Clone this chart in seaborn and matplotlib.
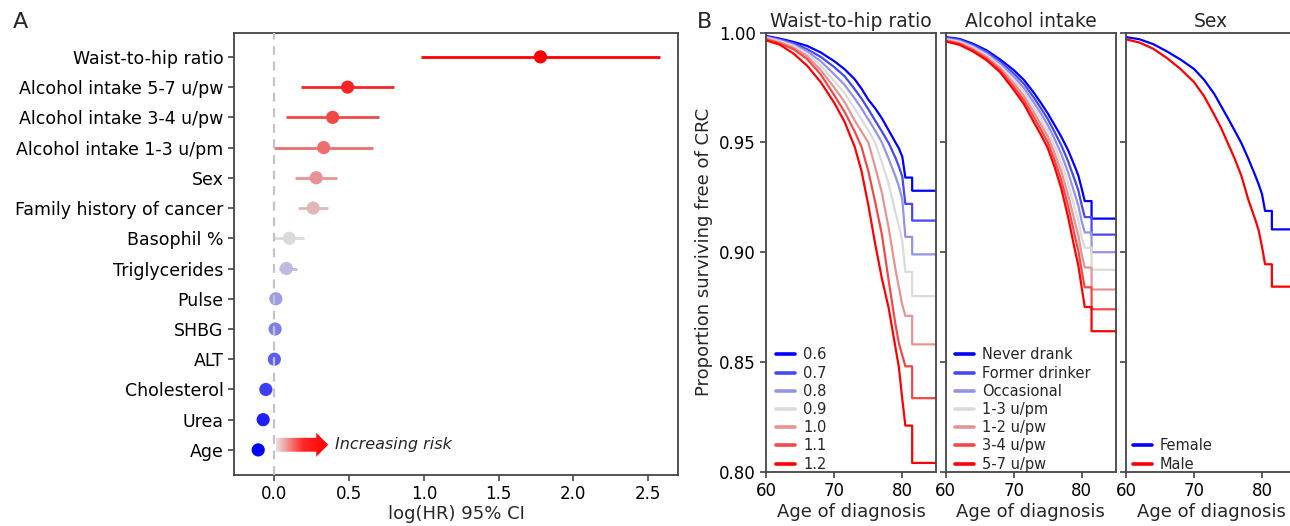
import numpy as np
import pandas as pd
import matplotlib
matplotlib.use("Agg")
import matplotlib.pyplot as plt
from matplotlib.colors import LinearSegmentedColormap
from matplotlib.patches import FancyArrow
import seaborn as sns

# ---- panel A: log hazard ratios with 95% CI (top to bottom)
features = ["Waist-to-hip ratio", "Alcohol intake 5-7 u/pw", "Alcohol intake 3-4 u/pw",
            "Alcohol intake 1-3 u/pm", "Sex", "Family history of cancer", "Basophil %",
            "Triglycerides", "Pulse", "SHBG", "ALT", "Cholesterol", "Urea", "Age"]
log_hr = [1.78, 0.49, 0.39, 0.33, 0.28, 0.26, 0.10, 0.08, 0.01, 0.005, 0.0, -0.057, -0.075, -0.108]
ci_low = [0.98, 0.18, 0.08, 0.0, 0.14, 0.16, 0.0, 0.03, -0.01, -0.015, -0.02, -0.095, -0.09, -0.12]
ci_high = [2.58, 0.80, 0.70, 0.66, 0.42, 0.36, 0.20, 0.15, 0.03, 0.025, 0.02, -0.02, -0.06, -0.095]

# ---- panel B: survival curves (age, proportion free of CRC)
ages = [60, 62, 64, 66, 68, 70, 71.5, 73, 74, 75, 76, 77, 78, 79, 79.5, 80, 80.45, 81.45, 81.45, 85]

whr_levels = ["0.6", "0.7", "0.8", "0.9", "1.0", "1.1", "1.2"]
whr_06 = [0.9985, 0.9973, 0.9958, 0.9940, 0.9910, 0.9870, 0.9834, 0.9788, 0.9745, 0.9695,
          0.9656, 0.9610, 0.9555, 0.9500, 0.9473, 0.9435, 0.934, 0.934, 0.928, 0.928]
whr_07 = [0.9982, 0.9969, 0.9952, 0.9925, 0.9890, 0.9843, 0.9802, 0.9743, 0.9700, 0.9652,
          0.9600, 0.9550, 0.9497, 0.9430, 0.9390, 0.9344, 0.922, 0.922, 0.9144, 0.9144]
whr_08 = [0.9980, 0.9965, 0.9945, 0.9915, 0.9870, 0.9810, 0.9763, 0.9700, 0.9655, 0.9605,
          0.9555, 0.9500, 0.9425, 0.9345, 0.9300, 0.9240, 0.907, 0.907, 0.899, 0.899]
whr_09 = [0.9977, 0.9961, 0.9940, 0.9905, 0.9850, 0.9780, 0.9725, 0.9655, 0.9605, 0.9555,
          0.9500, 0.9410, 0.9310, 0.9180, 0.9120, 0.9050, 0.891, 0.891, 0.880, 0.880]
whr_10 = [0.9973, 0.9956, 0.9932, 0.9893, 0.9830, 0.9750, 0.9685, 0.9600, 0.9550, 0.9500,
          0.9390, 0.9270, 0.9110, 0.8920, 0.8840, 0.8760, 0.871, 0.871, 0.858, 0.858]
whr_11 = [0.9970, 0.9951, 0.9925, 0.9880, 0.9810, 0.9715, 0.9640, 0.9550, 0.9480, 0.9370,
          0.9230, 0.9080, 0.8870, 0.8670, 0.8585, 0.8530, 0.848, 0.848, 0.8335, 0.8335]
whr_12 = [0.9965, 0.9945, 0.9905, 0.9850, 0.9775, 0.9680, 0.9595, 0.9480, 0.9370, 0.9215,
          0.9040, 0.8880, 0.8745, 0.8565, 0.8475, 0.8330, 0.821, 0.821, 0.804, 0.804]

alc_levels = ["Never drank", "Former drinker", "Occasional", "1-3 u/pm", "1-2 u/pw", "3-4 u/pw", "5-7 u/pw"]
alc_never = [0.9980, 0.9972, 0.9950, 0.9920, 0.9878, 0.9830, 0.9785, 0.9725, 0.9680, 0.9633,
             0.9580, 0.9526, 0.9465, 0.9390, 0.9350, 0.9290, 0.9233, 0.9233, 0.9153, 0.9153]
alc_former = [0.9977, 0.9968, 0.9944, 0.9913, 0.9868, 0.9815, 0.9767, 0.9703, 0.9656, 0.9607,
              0.9548, 0.9487, 0.9414, 0.9327, 0.9282, 0.9215, 0.916, 0.916, 0.908, 0.908]
alc_occ = [0.9973, 0.9963, 0.9938, 0.9905, 0.9859, 0.9800, 0.9748, 0.9680, 0.9632, 0.9580,
           0.9517, 0.9447, 0.9363, 0.9263, 0.9213, 0.9140, 0.909, 0.909, 0.900, 0.900]
alc_13pm = [0.9970, 0.9959, 0.9933, 0.9898, 0.9849, 0.9785, 0.9730, 0.9658, 0.9608, 0.9554,
            0.9485, 0.9408, 0.9313, 0.9200, 0.9145, 0.9065, 0.902, 0.902, 0.892, 0.892]
alc_12pw = [0.9967, 0.9954, 0.9927, 0.9890, 0.9839, 0.9770, 0.9712, 0.9635, 0.9583, 0.9528,
            0.9453, 0.9369, 0.9262, 0.9137, 0.9077, 0.8990, 0.893, 0.893, 0.883, 0.883]
alc_34pw = [0.9963, 0.9950, 0.9921, 0.9883, 0.9830, 0.9755, 0.9693, 0.9613, 0.9559, 0.9501,
            0.9422, 0.9329, 0.9211, 0.9073, 0.9008, 0.8915, 0.884, 0.884, 0.874, 0.874]
alc_57pw = [0.9960, 0.9945, 0.9915, 0.9875, 0.9820, 0.9740, 0.9675, 0.9590, 0.9535, 0.9475,
            0.9390, 0.9290, 0.9160, 0.9010, 0.8940, 0.8840, 0.875, 0.875, 0.864, 0.864]

sex_levels = ["Female", "Male"]
sex_female = [0.9980, 0.9970, 0.9948, 0.9915, 0.9878, 0.9835, 0.9785, 0.9720, 0.9665, 0.9610,
              0.9553, 0.9495, 0.9425, 0.9350, 0.9310, 0.9265, 0.9188, 0.9188, 0.9104, 0.9104]
sex_male = [0.9970, 0.9955, 0.9927, 0.9885, 0.9835, 0.9775, 0.9710, 0.9625, 0.9565, 0.9495,
            0.9425, 0.9345, 0.9238, 0.9150, 0.9100, 0.9025, 0.8945, 0.8945, 0.8843, 0.8843]


def long_frame(x, curves, levels):
    rows = []
    for lev, ys in zip(levels, curves):
        for a, s in zip(x, ys):
            rows.append({"age": a, "surv": s, "group": lev})
    return pd.DataFrame(rows)


sns.set_style("ticks")
plt.rcParams["font.family"] = ["DejaVu Sans"]

cmap = LinearSegmentedColormap.from_list("bgr", ["#0000ff", "#dcdcdc", "#ff0000"])
W, H = 1290, 526
fig = plt.figure(figsize=(W / 100, H / 100), dpi=100)

# ---------------- panel A
axA = fig.add_axes([234 / W, 1 - 475 / H, 444 / W, 442.3 / H])
pos = np.arange(len(features))
# blue -> grey over the 8 lowest rows, grey -> red over the rest
shade = np.concatenate([np.linspace(0, 0.5, 8), np.linspace(0.5, 1, 7)[1:]])[::-1]
dot_cols = [cmap(v) for v in shade]
axA.hlines(pos, ci_low, ci_high, colors=dot_cols, lw=2, zorder=2)
sns.scatterplot(x=log_hr, y=pos, hue=features, palette=dot_cols, s=90,
                linewidth=0, legend=False, ax=axA, zorder=3)
axA.axvline(0, color="#c4c4c4", ls=(0, (4, 3)), lw=1.6, zorder=3.5)

# gradient "increasing risk" arrow
arrow = FancyArrow(0.01, 12.83, 0.35, 0, width=0.46, head_width=0.8, head_length=0.08,
                   length_includes_head=True, facecolor="none", edgecolor="none")
axA.add_patch(arrow)
grad = LinearSegmentedColormap.from_list("g", ["#e6e2e2", "#ff2828", "#ff0000"])
img = axA.imshow(np.linspace(0, 1, 256)[None, :], cmap=grad, aspect="auto",
                 extent=[0.01, 0.36, 12.43, 13.23], zorder=4)
img.set_clip_path(arrow)
axA.text(0.405, 12.83, "Increasing risk", style="italic", fontsize=11.5, va="center")

axA.set_yticks(pos, features, fontsize=12.5)
axA.set_ylim(13.83, -0.8)
axA.set_xlim(-0.27, 2.70)
axA.set_xticks([0, 0.5, 1.0, 1.5, 2.0, 2.5], ["0.0", "0.5", "1.0", "1.5", "2.0", "2.5"], fontsize=12)
axA.set_xlabel("log(HR) 95% CI", fontsize=13, labelpad=1)
axA.set_ylabel("")

# ---------------- panel B
panels = [
    ("Waist-to-hip ratio", long_frame(ages, [whr_06, whr_07, whr_08, whr_09, whr_10, whr_11, whr_12], whr_levels), whr_levels),
    ("Alcohol intake", long_frame(ages, [alc_never, alc_former, alc_occ, alc_13pm, alc_12pw, alc_34pw, alc_57pw], alc_levels), alc_levels),
    ("Sex", long_frame(ages, [sex_female, sex_male], sex_levels), sex_levels),
]
lefts = [766.3, 945.7, 1126.0]
leg_x = [0.058, 0.055, 0.04]
axes_b = []
for k, ((title, df, levels), left) in enumerate(zip(panels, lefts)):
    ax = fig.add_axes([left / W, 1 - 471.7 / H, 170 / W, 439 / H])
    pal = [cmap(v) for v in np.linspace(0, 1, len(levels))]
    sns.lineplot(data=df, x="age", y="surv", hue="group", hue_order=levels, palette=pal,
                 estimator=None, sort=False, units="group", lw=1.6, ax=ax)
    leg = ax.get_legend()
    handles = leg.legend_handles
    labels = [t.get_text() for t in leg.get_texts()]
    for h in handles:
        h.set_linewidth(2.6)
    ax.legend(handles, labels, loc="lower left", bbox_to_anchor=(leg_x[k], 0.0),
              frameon=False, fontsize=10.5, handlelength=1.3, handletextpad=0.55,
              labelspacing=0.22, borderaxespad=0, borderpad=0)
    ax.set_xlim(60, 85)
    ax.set_ylim(0.80, 1.00)
    ax.set_xticks([60, 70, 80], ["60", "70", "80"], fontsize=12)
    ax.set_yticks([0.80, 0.85, 0.90, 0.95, 1.00])
    if k == 0:
        ax.set_yticklabels(["0.80", "0.85", "0.90", "0.95", "1.00"], fontsize=12)
        ax.set_ylabel("Proportion surviving free of CRC", fontsize=13)
    else:
        ax.set_yticklabels([])
        ax.set_ylabel("")
    ax.set_xlabel("Age of diagnosis", fontsize=13, labelpad=2)
    ax.set_title(title, fontsize=13.5, pad=4)
    axes_b.append(ax)

for ax in [axA] + axes_b:
    for sp in ax.spines.values():
        sp.set_color("#444444")
        sp.set_linewidth(1.3)
    ax.tick_params(colors="#444444", labelcolor="black", length=4, width=1.2)

fig.text(13 / W, 1 - 22 / H, "A", fontsize=16, va="center")
fig.text(697 / W, 1 - 22 / H, "B", fontsize=16, va="center")

fig.savefig("out.png", dpi=100)
